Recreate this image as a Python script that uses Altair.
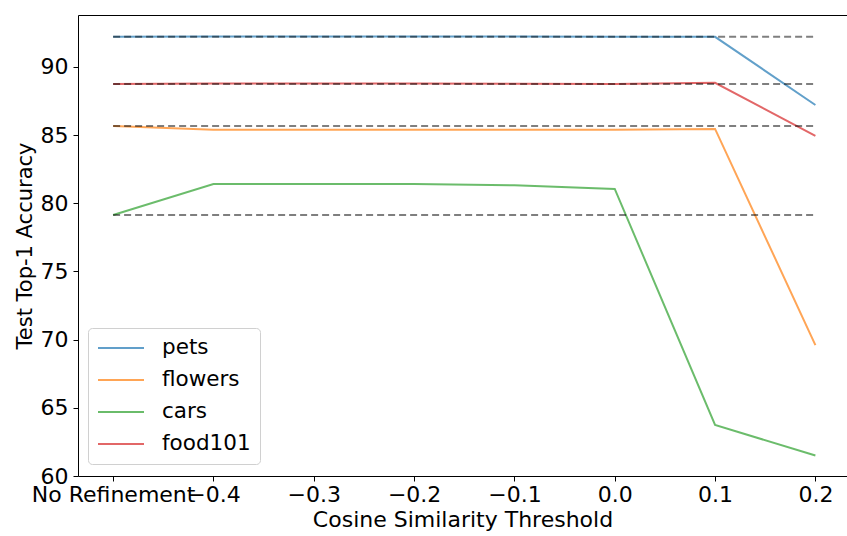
import altair as alt
import pandas as pd

# Thresholds; -0.5 stands for the "No Refinement" baseline position on the axis
thresholds = [-0.5, -0.4, -0.3, -0.2, -0.1, 0.0, 0.1, 0.2]
datasets = ["pets", "flowers", "cars", "food101"]
colors = ["#1f77b4", "#ff7f0e", "#2ca02c", "#d62728"]

pets = [92.2, 92.22, 92.22, 92.22, 92.22, 92.2, 92.2, 87.2]
flowers = [85.67, 85.38, 85.38, 85.38, 85.38, 85.38, 85.45, 69.6]
cars = [79.14, 81.40, 81.40, 81.40, 81.32, 81.05, 63.74, 61.5]
food101 = [88.75, 88.77, 88.77, 88.77, 88.76, 88.74, 88.83, 84.94]

series = {"pets": pets, "flowers": flowers, "cars": cars, "food101": food101}

rows = []
for name in datasets:
    for i, (t, v) in enumerate(zip(thresholds, series[name])):
        rows.append({"threshold": t, "accuracy": v, "dataset": name, "order": i})
df = pd.DataFrame(rows)

# Baselines (no refinement) spanning the full threshold range
base = pd.DataFrame({
    "dataset": datasets,
    "baseline": [series[n][0] for n in datasets],
    "x_start": [thresholds[0]] * len(datasets),
    "x_end": [thresholds[-1]] * len(datasets),
})

FONT = "DejaVu Sans"
FS = 22
x_scale = alt.Scale(domain=[-0.535, 0.2315], nice=False, zero=False)
y_scale = alt.Scale(domain=[60.0, 93.8], nice=False, zero=False)

label_expr = ("datum.value < -0.45 ? 'No Refinement' : "
              "replace(format(datum.value, '.1f'), '-', '\u2212')")

lines = alt.Chart(df).mark_line(strokeWidth=2, opacity=0.7).encode(
    x=alt.X("threshold:Q", scale=x_scale,
            axis=alt.Axis(values=thresholds, labelExpr=label_expr,
                          title="Cosine Similarity Threshold",
                          labelOverlap=False, labelFlush=False, labelBound=False,
                          grid=False, tickSize=5, labelPadding=3, titlePadding=4,
                          domainColor="black", tickColor="black",
                          labelColor="black", titleColor="black",
                          labelFontSize=FS, titleFontSize=FS,
                          labelFont=FONT, titleFont=FONT, titleFontWeight="normal")),
    y=alt.Y("accuracy:Q", scale=y_scale,
            axis=alt.Axis(values=[60, 65, 70, 75, 80, 85, 90],
                          title="Test Top-1 Accuracy", grid=False,
                          tickSize=5, labelPadding=5, titlePadding=5,
                          domainColor="black", tickColor="black",
                          labelColor="black", titleColor="black",
                          labelFontSize=FS, titleFontSize=21,
                          labelFont=FONT, titleFont=FONT, titleFontWeight="normal")),
    color=alt.Color("dataset:N",
                    scale=alt.Scale(domain=datasets, range=colors),
                    legend=alt.Legend(title=None, orient="none",
                                      legendX=10, legendY=313,
                                      symbolType="M-1,0H3.6", symbolSize=400,
                                      symbolStrokeWidth=2, symbolOpacity=0.7,
                                      labelOffset=43, rowPadding=10,
                                      padding=9,
                                      labelFontSize=21.5, labelFont=FONT,
                                      labelColor="black",
                                      fillColor="white", strokeColor="#d0d0d0",
                                      cornerRadius=4)),
    order="order:Q",
    detail="dataset:N",
)

baselines = alt.Chart(base).mark_rule(
    color="black", opacity=0.5, strokeWidth=2, strokeDash=[7, 4]
).encode(
    x=alt.X("x_start:Q", scale=x_scale,
            axis=alt.Axis(orient="top", labels=False, ticks=False, title=None,
                          grid=False, domainColor="black")),
    x2="x_end:Q",
    y=alt.Y("baseline:Q", scale=y_scale),
)

chart = alt.layer(lines, baselines).resolve_axis(x="independent").properties(
    width=769,
    height=461,
    padding={"left": 78, "top": 15, "right": 0, "bottom": 60},
    autosize=alt.AutoSizeParams(type="none"),
    background="white",
).configure_view(stroke=None)

chart.save("out.html", embed_options={"renderer": "svg", "actions": False})
